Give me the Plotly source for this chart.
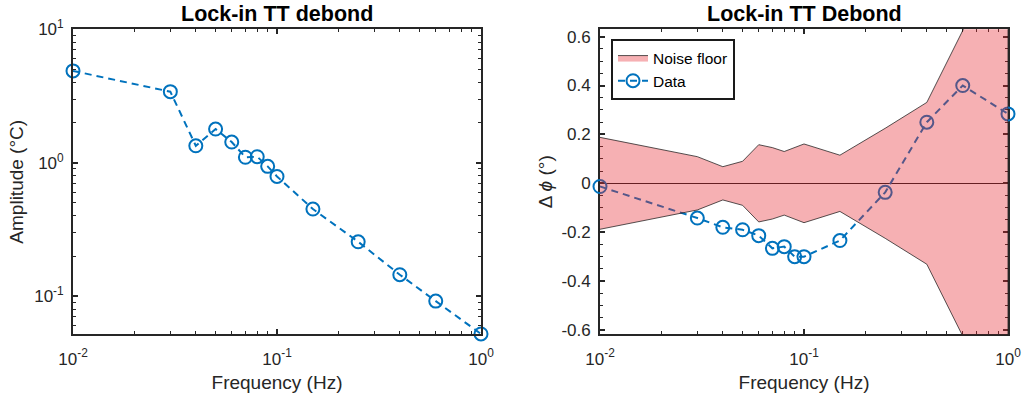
import plotly.graph_objects as go

# ---------------- data ----------------
freq = [0.01, 0.03, 0.04, 0.05, 0.06, 0.07, 0.08, 0.09, 0.1, 0.15, 0.25, 0.4, 0.6, 1.0]
amplitude = [4.88, 3.41, 1.34, 1.79, 1.43, 1.10, 1.11, 0.94, 0.79, 0.45, 0.256, 0.145, 0.092, 0.0522]
phase = [-0.013, -0.142, -0.180, -0.190, -0.214, -0.266, -0.259, -0.300, -0.300, -0.234, -0.037, 0.250, 0.400, 0.284]
noise_floor = [0.188, 0.109, 0.068, 0.090, 0.158, 0.146, 0.130, 0.146, 0.161, 0.115, 0.225, 0.331, 0.625, 0.95]

log_tick_vals = [0.01, 0.1, 1]
log_tick_text = ["10<sup>-2</sup>", "10<sup>-1</sup>", "10<sup>0</sup>"]
amp_tick_vals = [0.1, 1, 10]
amp_tick_text = ["10<sup>-1</sup>", "10<sup>0</sup>", "10<sup>1</sup>"]
phase_tick_vals = [-0.6, -0.4, -0.2, 0, 0.2, 0.4, 0.6]
phase_tick_text = ["-0.6", "-0.4", "-0.2", "0", "0.2", "0.4", "0.6"]

titles = ["Lock-in TT debond", "Lock-in TT Debond"]

# ---------------- style ----------------
BLUE = "#0072BD"
AX = "#262626"
FONT = "Liberation Sans, Arial, sans-serif"
W, H = 1023, 400

def px_x(p):
    return p / W

def px_y(p):
    return 1 - p / H

dom_x1 = [px_x(73), px_x(481)]
dom_x2 = [px_x(600), px_x(1008)]
dom_y = [px_y(334.3), px_y(29.3)]

fig = go.Figure()

# left: amplitude
fig.add_trace(go.Scatter(
    x=freq, y=amplitude, mode="lines+markers", xaxis="x", yaxis="y",
    line=dict(color=BLUE, width=2, dash="7px,5px"),
    marker=dict(symbol="circle-open", size=13, color=BLUE, line=dict(width=2, color=BLUE)),
    cliponaxis=False, showlegend=False,
))

# right: data (under the noise floor)
fig.add_trace(go.Scatter(
    x=freq, y=phase, mode="lines+markers", xaxis="x2", yaxis="y2", name="Data",
    line=dict(color=BLUE, width=2, dash="7px,5px"),
    marker=dict(symbol="circle-open", size=13, color=BLUE, line=dict(width=2, color=BLUE)),
    cliponaxis=False, legendrank=2,
))

# noise floor polygon
poly_x = freq + freq[::-1]
poly_y = noise_floor + [-v for v in noise_floor[::-1]]
fig.add_trace(go.Scatter(
    x=poly_x, y=poly_y, mode="lines", fill="toself", xaxis="x2", yaxis="y2",
    name="Noise floor", fillcolor="rgba(230,40,50,0.37)",
    line=dict(color="rgba(20,20,20,0.9)", width=0.8), legendrank=1,
))

tickfont = dict(family=FONT, size=17, color=AX)
titlefont = dict(family=FONT, size=19, color=AX)

common = dict(
    showline=True, linecolor=AX, linewidth=1.8, mirror="ticks",
    ticks="inside", ticklen=5, tickwidth=1.5, tickcolor=AX,
    showgrid=False, tickfont=tickfont, automargin=False,
)
log_minor = dict(ticks="inside", ticklen=3, tickwidth=1.2, tickcolor=AX, dtick="D1", showgrid=False)

fig.update_layout(
    width=W, height=H,
    margin=dict(l=0, r=0, t=0, b=0),
    paper_bgcolor="white", plot_bgcolor="white",
    font=dict(family=FONT, color=AX),
    xaxis=dict(domain=dom_x1, type="log", range=[-2, 0], anchor="y", zeroline=False,
               tickmode="array", tickvals=log_tick_vals, ticktext=log_tick_text,
               minor=log_minor, ticklabelstandoff=8,
               title=dict(text="Frequency (Hz)", font=titlefont, standoff=8), **common),
    yaxis=dict(domain=dom_y, type="log", range=[-1.285, 1], anchor="x", zeroline=False,
               tickmode="array", tickvals=amp_tick_vals, ticktext=amp_tick_text,
               minor=log_minor, ticklabelstandoff=4,
               title=dict(text="Amplitude (°C)", font=titlefont, standoff=6), **common),
    xaxis2=dict(domain=dom_x2, type="log", range=[-2, 0], anchor="y2", zeroline=False,
                tickmode="array", tickvals=log_tick_vals, ticktext=log_tick_text,
                minor=log_minor, layer="below traces", ticklabelstandoff=8,
                title=dict(text="Frequency (Hz)", font=titlefont, standoff=8), **common),
    yaxis2=dict(domain=dom_y, range=[-0.6176, 0.630], anchor="x2",
                tickmode="array", tickvals=phase_tick_vals, ticktext=phase_tick_text,
                minor=dict(ticks="inside", ticklen=3, tickwidth=1.2, tickcolor=AX,
                           tickvals=[v / 100 for v in range(-60, 65, 5)], showgrid=False),
                layer="below traces", ticklabelstandoff=4,
                title=dict(text="Δ <i>ϕ</i> (°)", font=titlefont, standoff=4),
                zeroline=True, zerolinecolor="#1a1a1a", zerolinewidth=1, **common),
    legend=dict(x=px_x(611), y=px_y(39), xanchor="left", yanchor="top",
                bgcolor="white", bordercolor="#1a1a1a", borderwidth=2,
                font=dict(family=FONT, size=15.5, color="black"),
                itemwidth=30, tracegroupgap=0),
)

for i, t in enumerate(titles):
    dom = dom_x1 if i == 0 else dom_x2
    fig.add_annotation(
        text="<b>" + t + "</b>", x=(dom[0] + dom[1]) / 2, y=px_y(14),
        xref="paper", yref="paper", xanchor="center", yanchor="middle",
        showarrow=False, font=dict(family=FONT, size=21.5, color="black"),
    )

fig.write_html("out.html")
